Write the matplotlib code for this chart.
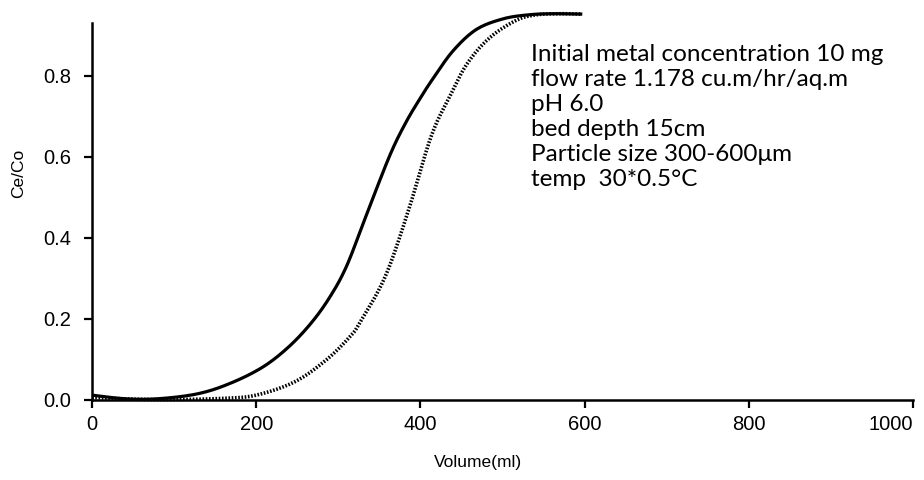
import matplotlib
matplotlib.use('Agg')
import matplotlib.pyplot as plt
import numpy as np

# Breakthrough curves
vol_a = [0, 40, 80, 128, 167, 207, 239, 267, 290, 310, 333, 362, 381, 399, 416, 440, 468, 500, 530,
         560, 597]
ce_a = [0.012, 0.003, 0.003, 0.015, 0.04, 0.08, 0.13, 0.19, 0.255, 0.33, 0.45, 0.60, 0.68, 0.742,
        0.795, 0.862, 0.914, 0.94, 0.95, 0.953, 0.952]

vol_b = [0, 50, 100, 160, 200, 247, 286, 314, 326, 357, 385, 413, 436, 457, 484, 516, 540, 570, 597]
ce_b = [0.006, 0.002, 0.001, 0.004, 0.012, 0.045, 0.1, 0.156, 0.19, 0.304, 0.465, 0.65, 0.75,
        0.83, 0.893, 0.936, 0.95, 0.953, 0.952]

x_ticks = [0, 200, 400, 600, 800, 1000]
y_ticks = [0.0, 0.2, 0.4, 0.6, 0.8]

notes = [
    'Initial metal concentration 10 mg',
    'flow rate 1.178 cu.m/hr/aq.m',
    'pH 6.0',
    'bed depth 15cm',
    'Particle size 300-600\u03bcm',
    'temp  30*0.5\u00b0C',
]


def smooth(xs, ys, n=20):
    # Catmull-Rom through the points, like a spreadsheet "smoothed line"
    p = np.column_stack([xs, ys]).astype(float)
    p = np.vstack([p[0], p, p[-1]])
    out = []
    t = np.linspace(0, 1, n, endpoint=False)[:, None]
    for i in range(1, len(p) - 2):
        p0, p1, p2, p3 = p[i - 1], p[i], p[i + 1], p[i + 2]
        seg = 0.5 * ((2 * p1) + (-p0 + p2) * t + (2 * p0 - 5 * p1 + 4 * p2 - p3) * t ** 2
                     + (-p0 + 3 * p1 - 3 * p2 + p3) * t ** 3)
        out.append(seg)
    out.append(p[-2][None, :])
    out = np.vstack(out)
    return out[:, 0], out[:, 1]


plt.rcParams['font.family'] = ['Liberation Sans', 'DejaVu Sans']

fig = plt.figure(figsize=(9.24, 4.8), dpi=100)
ax = fig.add_axes([0.0996, 0.1667, 0.8885, 0.7853])

xa, ya = smooth(vol_a, ce_a)
xb, yb = smooth(vol_b, ce_b)
ax.plot(xa, ya, color='black', lw=2.3, clip_on=False, solid_capstyle='butt')
ax.plot(xb, yb, color='black', lw=2.6, linestyle=(0, (0.45, 0.45)), clip_on=False)

ax.set_xlim(0, 1000)
ax.set_ylim(0, 0.93)
ax.set_xticks(x_ticks)
ax.set_yticks(y_ticks)
ax.set_yticklabels([f'{v:.1f}' for v in y_ticks])
ax.tick_params(labelsize=14.5, width=1.6, length=6, direction='out', color='black')
ax.tick_params(axis='x', pad=5)
ax.tick_params(axis='y', pad=9)
ax.get_xticklabels()[-1].set_horizontalalignment('right')

for side in ['top', 'right']:
    ax.spines[side].set_visible(False)
for side in ['left', 'bottom']:
    ax.spines[side].set_linewidth(1.8)

ax.set_ylabel('Ce/Co', fontsize=12.5)
ax.yaxis.set_label_coords(-0.08, 0.6)
ax.set_xlabel('Volume(ml)', fontsize=12.5)
ax.xaxis.set_label_coords(0.47, -0.145)

ax.text(0.535, 0.945, '\n'.join(notes), transform=ax.transAxes, family=['Lato', 'DejaVu Sans'],
        fontsize=17.5, va='top', ha='left', linespacing=1.24)

fig.savefig('out.png', dpi=100)
